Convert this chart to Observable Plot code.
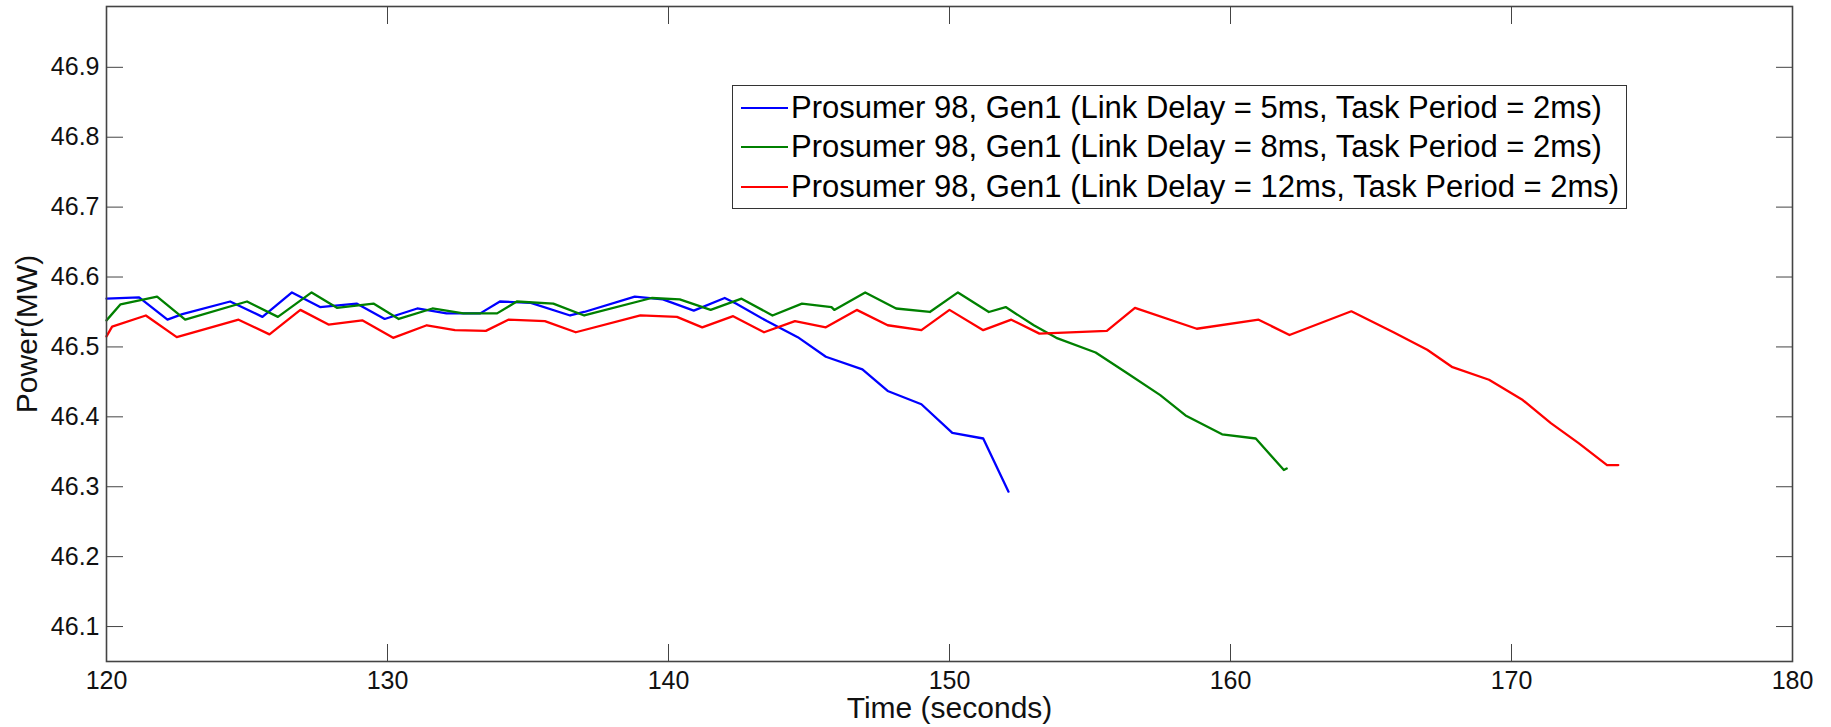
<!DOCTYPE html>
<html>
<head>
<meta charset="utf-8">
<script src="https://cdn.jsdelivr.net/npm/d3@7"></script>
<script src="https://cdn.jsdelivr.net/npm/@observablehq/plot@0.6"></script>
<style>
  body { margin: 0; background: #fff; }
  #wrap { position: relative; width: 1831px; height: 727px; font-family: "Liberation Sans", Arial, sans-serif; }
  #legend { position: absolute; left: 732px; top: 85px; width: 895px; height: 124px; box-sizing: border-box;
            border: 1.5px solid #333; background: #fff; padding-top: 2px; }
  .row { display: flex; align-items: center; height: 39.5px; font-size: 31px; color: #000; white-space: nowrap; }
  .sw { width: 47px; height: 0; border-top: 2px solid; margin-left: 8px; margin-right: 3px; }
</style>
</head>
<body>
<div id="wrap"><div id="legend"></div></div>
<script>
// ---- data ----
const seriesNames = [
  "Prosumer 98, Gen1 (Link Delay = 5ms, Task Period = 2ms)",
  "Prosumer 98, Gen1 (Link Delay = 8ms, Task Period = 2ms)",
  "Prosumer 98, Gen1 (Link Delay = 12ms, Task Period = 2ms)"
];
const seriesColors = ["#0000ff", "#008000", "#ff0000"];

const time5 = [120.0,121.16,122.17,122.7,124.4,125.55,126.6,127.6,128.9,129.9,131.06,132.1,133.3,134.0,135.1,136.5,137.0,138.8,139.8,140.9,142.0,142.4,143.5,144.6,145.6,146.9,147.8,149.0,150.1,151.2,152.1];
const power5 = [46.569,46.571,46.539,46.547,46.565,46.543,46.578,46.557,46.562,46.540,46.555,46.548,46.548,46.565,46.563,46.545,46.550,46.572,46.568,46.552,46.570,46.562,46.537,46.514,46.486,46.468,46.437,46.418,46.377,46.369,46.293];

const time8 = [120.0,120.5,121.8,122.8,125.0,126.1,127.3,128.2,129.5,130.4,131.6,132.7,133.9,134.6,135.9,137.0,139.4,140.4,141.5,142.6,143.7,144.75,145.8,145.9,147.0,148.1,149.3,150.3,151.4,152.0,153.0,153.8,155.2,156.3,157.5,158.4,159.7,160.9,161.9,162.0];
const power8 = [46.538,46.561,46.572,46.539,46.565,46.543,46.578,46.556,46.562,46.540,46.555,46.548,46.548,46.565,46.562,46.545,46.570,46.568,46.553,46.569,46.545,46.562,46.557,46.553,46.578,46.555,46.550,46.578,46.550,46.557,46.531,46.513,46.492,46.463,46.431,46.402,46.375,46.369,46.324,46.326];

const time12 = [120.0,120.2,121.4,122.5,124.7,125.8,126.9,127.9,129.1,130.2,131.4,132.4,133.5,134.3,135.6,136.7,139.0,140.3,141.2,142.3,143.4,144.5,145.6,146.7,147.8,149.0,150.0,151.2,152.2,153.2,155.6,156.6,158.8,161.0,162.1,164.3,165.8,167.0,167.9,169.2,170.4,171.4,172.4,173.4,173.8];
const power12 = [46.515,46.529,46.545,46.514,46.539,46.518,46.553,46.532,46.538,46.513,46.531,46.524,46.523,46.539,46.537,46.521,46.545,46.543,46.528,46.544,46.521,46.537,46.528,46.553,46.531,46.524,46.553,46.524,46.539,46.519,46.523,46.556,46.526,46.539,46.517,46.551,46.521,46.496,46.471,46.453,46.424,46.391,46.362,46.331,46.331];

const xTicks = [120, 130, 140, 150, 160, 170, 180];
const yTicks = [46.1, 46.2, 46.3, 46.4, 46.5, 46.6, 46.7, 46.8, 46.9];
const xLabel = "Time (seconds)";
const yLabel = "Power(MW)";

// ---- build table ----
const allTimes = [time5, time8, time12];
const allPowers = [power5, power8, power12];
const rows = [];
allTimes.forEach((ts, s) => ts.forEach((t, i) => rows.push({series: seriesNames[s], t, v: allPowers[s][i]})));

const font = "Liberation Sans, Arial, sans-serif";
const chart = Plot.plot({
  width: 1831,
  height: 727,
  marginLeft: 106,
  marginRight: 39,
  marginTop: 6,
  marginBottom: 66,
  style: {fontFamily: font, background: "#fff", color: "#111"},
  x: {domain: [120, 180]},
  y: {domain: [46.05, 46.987]},
  color: {domain: seriesNames, range: seriesColors},
  marks: [
    Plot.line(rows, {x: "t", y: "v", stroke: "series", strokeWidth: 2.3}),
    Plot.axisX({anchor: "bottom", ticks: xTicks, tickSize: -17, tickPadding: 27, fontSize: 25, label: null, stroke: "#444", fill: "#111"}),
    Plot.axisX({anchor: "top", ticks: xTicks, tickSize: -17, tickFormat: () => "", label: null, stroke: "#444"}),
    Plot.axisY({anchor: "left", ticks: yTicks, tickSize: -17, tickPadding: 24, tickFormat: d3.format(".1f"), fontSize: 25, label: null, stroke: "#444", fill: "#111"}),
    Plot.axisY({anchor: "right", ticks: yTicks, tickSize: -17, tickFormat: () => "", label: null, stroke: "#444"}),
    Plot.frame({stroke: "#444", strokeWidth: 1.6}),
    Plot.text([xLabel], {frameAnchor: "bottom", dy: 35, lineAnchor: "top", fontSize: 30, fill: "#111"}),
    Plot.text([yLabel], {frameAnchor: "left", rotate: -90, dx: -91, lineAnchor: "top", textAnchor: "middle", fontSize: 30, fill: "#111"})
  ]
});
const wrap = document.getElementById("wrap");
wrap.insertBefore(chart, wrap.firstChild);

// legend (inside plot area, as in the reference)
const legend = document.getElementById("legend");
seriesNames.forEach((name, i) => {
  const row = document.createElement("div");
  row.className = "row";
  const sw = document.createElement("span");
  sw.className = "sw";
  sw.style.borderTopColor = seriesColors[i];
  const tx = document.createElement("span");
  tx.textContent = name;
  row.appendChild(sw);
  row.appendChild(tx);
  legend.appendChild(row);
});
</script>
</body>
</html>
